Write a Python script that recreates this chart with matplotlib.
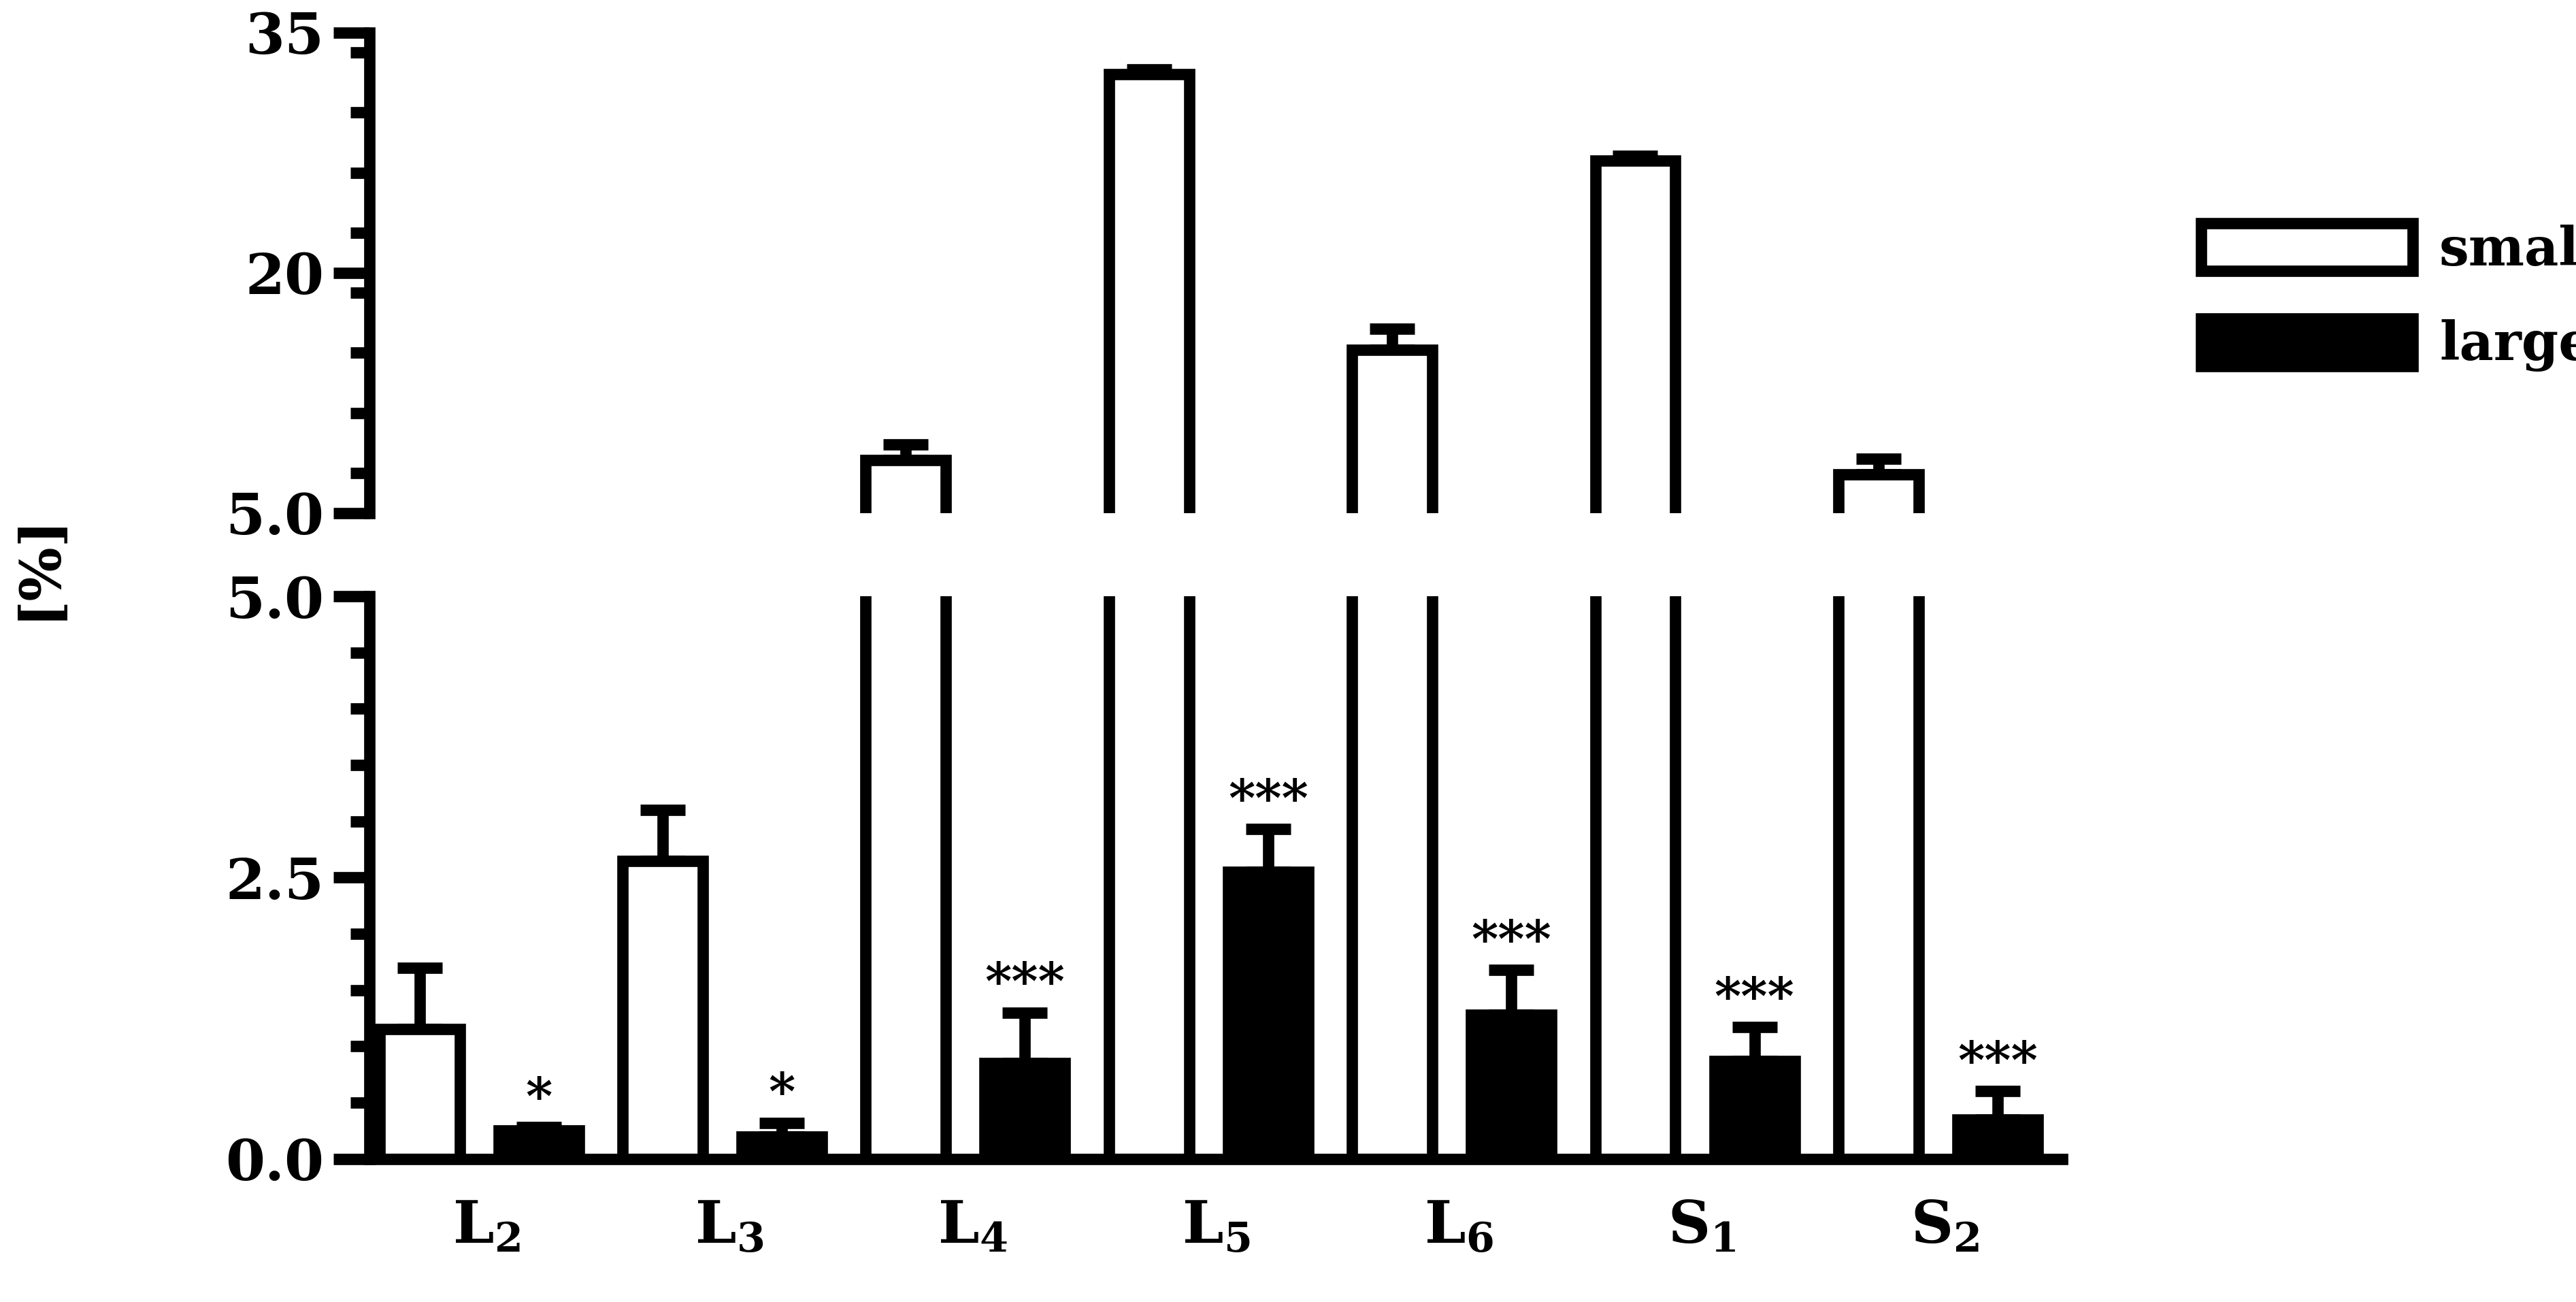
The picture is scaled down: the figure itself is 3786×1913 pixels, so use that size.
import matplotlib
matplotlib.use("Agg")
import matplotlib.pyplot as plt
from matplotlib.patches import Patch
from matplotlib.ticker import MultipleLocator, FixedLocator
import numpy as np

categories = ["L", "L", "L", "L", "L", "S", "S"]
subs = ["2", "3", "4", "5", "6", "1", "2"]
small = [1.15, 2.65, 8.3, 32.4, 15.2, 27.0, 7.4]
small_err = [0.55, 0.45, 1.0, 0.3, 1.3, 0.3, 1.0]
large = [0.25, 0.2, 0.85, 2.55, 1.28, 0.87, 0.35]
large_err = [0.03, 0.12, 0.45, 0.38, 0.4, 0.3, 0.25]
stars = ["*", "*", "***", "***", "***", "***", "***"]

plt.rcParams['font.family'] = ['DejaVu Serif']
plt.rcParams['font.weight'] = 'bold'
plt.rcParams['mathtext.fontset'] = 'dejavuserif'

fig = plt.figure(figsize=(37.86, 19.13), dpi=100)
axt = fig.add_axes([0.1435, 0.606, 0.657, 0.369])
axb = fig.add_axes([0.1435, 0.110, 0.657, 0.432])
x = np.arange(len(small))
off, w = 0.245, 0.33
lw = 12
for ax in (axt, axb):
    ax.bar(x - off, small, w, facecolor='white', edgecolor='black', linewidth=lw, zorder=2)
    ax.bar(x + off, large, w, facecolor='black', edgecolor='black', linewidth=lw, zorder=2)
    ax.errorbar(x - off, small, yerr=[np.zeros(7), small_err], fmt='none', ecolor='black',
                elinewidth=lw, capsize=24, capthick=lw, zorder=1)
    ax.errorbar(x + off, large, yerr=[np.zeros(7), large_err], fmt='none', ecolor='black',
                elinewidth=lw, capsize=24, capthick=lw, zorder=1)
    ax.set_xlim(-0.45, 6.51)
    for s in ('top', 'right'):
        ax.spines[s].set_visible(False)
    ax.spines['left'].set_linewidth(lw)
    ax.spines['bottom'].set_linewidth(lw)
    ax.tick_params(axis='y', which='major', length=38, width=lw, labelsize=60, pad=10)
    ax.tick_params(axis='y', which='minor', length=20, width=lw)

axt.set_ylim(5, 35)
axt.spines['bottom'].set_visible(False)
axt.set_xticks([])
axt.yaxis.set_major_locator(FixedLocator([5, 20, 35]))
axt.set_yticklabels(["5.0", "20", "35"])
axt.yaxis.set_minor_locator(MultipleLocator(3.75))

axb.set_ylim(0, 5)
axb.set_yticks([0, 2.5, 5])
axb.set_yticklabels(["0.0", "2.5", "5.0"])
axb.yaxis.set_minor_locator(MultipleLocator(0.5))
axb.set_xticks(x + 0.03)
axb.set_xticklabels([r"$\mathbf{%s}_\mathbf{%s}$" % (c, s) for c, s in zip(categories, subs)], fontsize=62)
axb.tick_params(axis='x', length=0, pad=42)
for i in range(7):
    axb.text(x[i] + off, large[i] + large_err[i] + 0.02, stars[i], ha='center', va='bottom',
             fontsize=54, fontweight='bold')

fig.text(0.015, 0.565, "[%]", rotation=90, fontsize=60, fontweight='bold', ha='center', va='center')

handles = [Patch(facecolor='white', edgecolor='black', linewidth=lw, label='small'),
           Patch(facecolor='black', edgecolor='black', linewidth=lw, label='large')]
fig.legend(handles=handles, loc='upper left', bbox_to_anchor=(0.836, 0.865), frameon=False,
           fontsize=56, handlelength=4.0, handleheight=1.0, labelspacing=0.8, handletextpad=0.5)

fig.savefig("out.png", dpi=100)
